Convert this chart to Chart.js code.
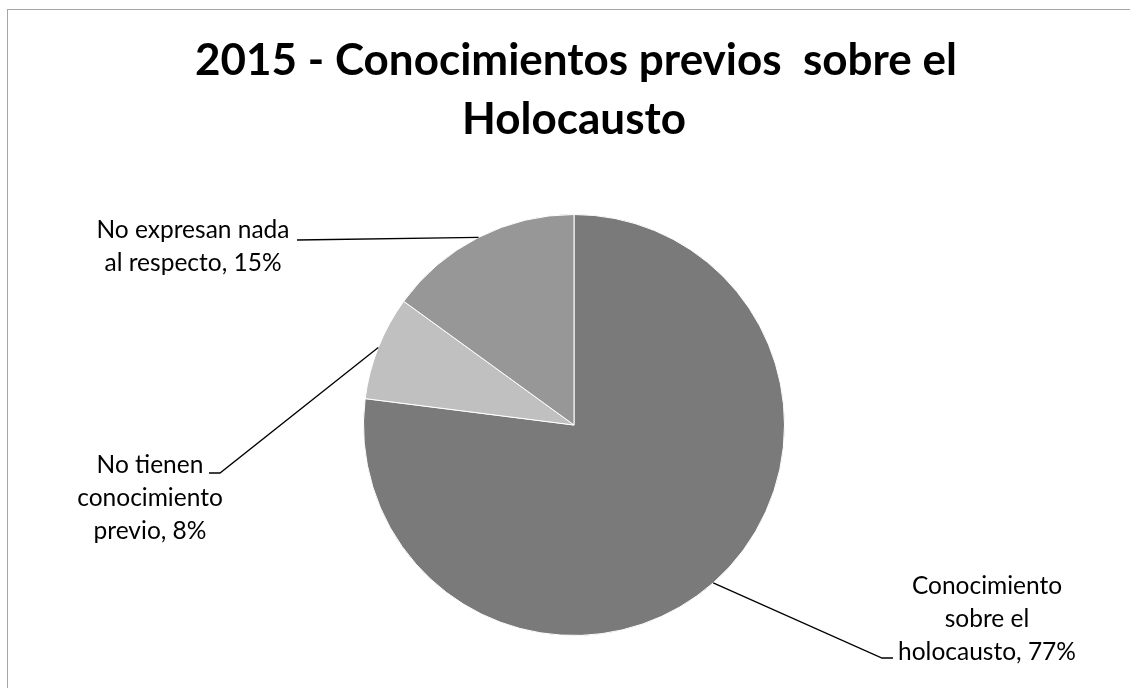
<!DOCTYPE html>
<html>
<head>
<meta charset="utf-8">
<script src="https://cdn.jsdelivr.net/npm/chart.js@4/dist/chart.umd.min.js"></script>
<style>
  html, body { margin: 0; padding: 0; background: #fff; }
  #wrap { position: relative; width: 1130px; height: 688px; overflow: hidden; }
  #frame {
    position: absolute; left: 7px; top: 9px; width: 1140px; height: 700px;
    border: 1.5px solid #a6a6a6; box-sizing: border-box;
  }
  #chart { position: absolute; left: 0; top: 0; }
</style>
</head>
<body>
<div id="wrap">
  <div id="frame"></div>
  <canvas id="chart" width="1130" height="688"></canvas>
</div>
<script>
const titleLines = ["2015 - Conocimientos previos  sobre el", "Holocausto"];
const categories = [
    "Conocimiento sobre el holocausto",
    "No tienen conocimiento previo",
    "No expresan nada al respecto"
];
const percentages = [77, 8, 15];
const sliceColors = ["#7a7a7a", "#c0c0c0", "#979797"];

// label text lines, drawn as "name, value%"
const labelLines = [
    ["Conocimiento", "sobre el", "holocausto, " + percentages[0] + "%"],
    ["No tienen", "conocimiento", "previo, " + percentages[1] + "%"],
    ["No expresan nada", "al respecto, " + percentages[2] + "%"]
];

// where each label block sits: text centre, first baseline, and the elbow of the leader line
const labelPlacement = [
    { cx: 987, top: 594, elbowX: 882, elbowY: 658, tailX: 893 },
    { cx: 150, top: 473, elbowX: 220, elbowY: 473, tailX: 209 },
    { cx: 193, top: 238, elbowX: 297, elbowY: 240, tailX: 297 }
];

const titleText = {
    id: "titleText",
    afterDraw(chart) {
        const ctx = chart.ctx;
        ctx.save();
        ctx.font = "bold 44px Lato, 'Open Sans', sans-serif";
        ctx.fillStyle = "#000";
        ctx.textAlign = "center";
        ctx.textBaseline = "alphabetic";
        ctx.fillText(titleLines[0], 576, 75);
        ctx.fillText(titleLines[1], 574, 134);
        ctx.restore();
    }
};

const leaderLabels = {
    id: "leaderLabels",
    afterDatasetsDraw(chart) {
        const ctx = chart.ctx;
        const arcs = chart.getDatasetMeta(0).data;
        ctx.save();
        ctx.font = "24.5px Lato, 'Open Sans', sans-serif";
        ctx.fillStyle = "#000";
        ctx.textAlign = "center";
        ctx.textBaseline = "alphabetic";
        ctx.strokeStyle = "#000";
        ctx.lineWidth = 1.3;
        arcs.forEach((arc, i) => {
            const p = arc.getProps(["x", "y", "startAngle", "endAngle", "outerRadius"], true);
            const mid = (p.startAngle + p.endAngle) / 2;
            const ax = p.x + Math.cos(mid) * p.outerRadius;
            const ay = p.y + Math.sin(mid) * p.outerRadius;
            const pl = labelPlacement[i];
            ctx.beginPath();
            ctx.moveTo(ax, ay);
            ctx.lineTo(pl.elbowX, pl.elbowY);
            ctx.lineTo(pl.tailX, pl.elbowY);
            ctx.stroke();
            labelLines[i].forEach((line, j) => {
                ctx.fillText(line, pl.cx, pl.top + j * 33);
            });
        });
        ctx.restore();
    }
};

new Chart(document.getElementById("chart"), {
    type: "pie",
    data: {
        labels: categories,
        datasets: [{
            data: percentages,
            backgroundColor: sliceColors,
            borderColor: "#ffffff",
            borderWidth: 1
        }]
    },
    options: {
        responsive: false,
        animation: false,
        layout: { padding: { left: 363, right: 345, top: 214, bottom: 52 } },
        plugins: {
            legend: { display: false },
            tooltip: { enabled: false }
        }
    },
    plugins: [leaderLabels, titleText]
});
</script>
</body>
</html>
